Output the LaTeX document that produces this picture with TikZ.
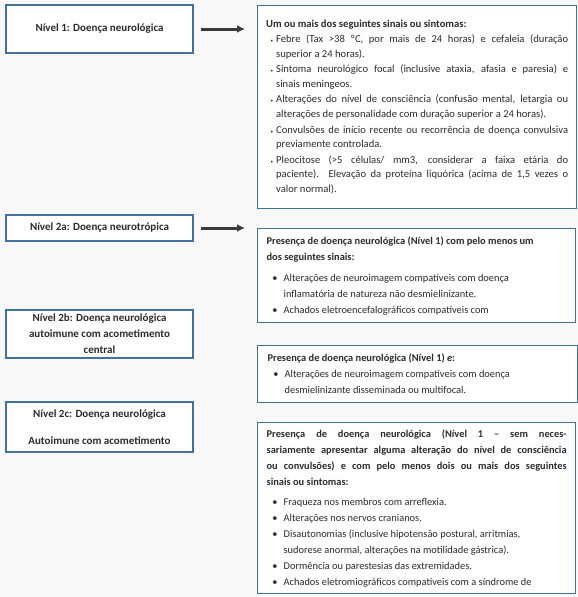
\documentclass[tikz,border=0pt]{standalone}
\usepackage{fontspec}
\setmainfont{Carlito}
\usepackage{xcolor}
\usepackage{enumitem}
\usepackage{tikz}
\usetikzlibrary{arrows, arrows.meta, positioning, calc}
\definecolor{FundoCinza}{HTML}{F8F8F9}
\definecolor{BordaAzul}{HTML}{44709C}
\definecolor{SetaCinza}{HTML}{3A3A3A}
\definecolor{TextoEscuro}{HTML}{2B2B2B}
\newlist{sinaisum}{itemize}{1}
\setlist[sinaisum]{label={\tiny\textbullet}, leftmargin=10pt, labelsep=3pt, nosep, itemsep=1pt}
\newlist{sinaisdois}{itemize}{1}
\setlist[sinaisdois]{label=\textbullet, leftmargin=17pt, labelsep=6pt, nosep}
\tikzset{
  >=latex,  % setas estilo LaTeX
  % caixas da esquerda (niveis)
  nivel/.style={draw=BordaAzul,line width=1.3pt,fill=white,minimum width=187pt,
    align=center,font=\fontsize{11}{16}\selectfont\bfseries,text=TextoEscuro},
  % caixas da direita (criterios)
  criterio/.style={draw=BordaAzul,line width=1.3pt,fill=white,anchor=north west,
    align=justify,text width=300pt,minimum width=318pt,
    font=\fontsize{10.4}{16}\selectfont,text=TextoEscuro},
  % setas
  seta/.style={-{Latex[length=8pt,width=8pt]},line width=3pt,SetaCinza,
    shorten <=7pt,shorten >=12pt}
}
\begin{document}
\begin{tikzpicture}[x=1pt,y=-1pt]
  \fill[FundoCinza] (0,0) rectangle (578,597);
  \useasboundingbox (0,0) rectangle (578,597);
  % niveis
  \node[nivel,minimum height=48pt] (n1) at (99.5,29) {N\'ivel 1: Doen\c{c}a neurol\'ogica};
  \node[nivel,minimum height=26pt] (n2a) at (99.5,228) {N\'ivel 2a: Doen\c{c}a neurotr\'opica};
  \node[nivel,minimum height=48pt] (n2b) at (99.5,334) {N\'ivel 2b: Doen\c{c}a neurol\'ogica\\
    autoimune com acometimento\\ central};
  \node[nivel,minimum height=50pt] (n2c) at (99.5,427) {N\'ivel 2c: Doen\c{c}a neurol\'ogica\\[11pt]
    Autoimune com acometimento};
  % criterios
  \node[criterio,text width=302pt,minimum width=319pt,minimum height=203pt,
    font=\fontsize{10.6}{14.6}\selectfont] (r1) at (257,5) {%
    \textbf{Um ou mais dos seguintes sinais ou sintomas:}
    \begin{sinaisum}
      \item Febre (Tax >38 ºC, por mais de 24 horas) e cefaleia (dura\c{c}\~ao\linebreak
        superior a 24 horas).
      \item Sintoma neurol\'ogico focal (inclusive ataxia, afasia e paresia) e\linebreak
        sinais meningeos.
      \item Altera\c{c}\~oes do n\'ivel de consci\^encia (confus\~ao mental, letargia ou\linebreak
        altera\c{c}\~oes de personalidade com dura\c{c}\~ao superior a 24 horas).
      \item Convuls\~oes de in\'icio recente ou recorr\^encia de doen\c{c}a convulsiva\linebreak
        previamente controlada.
      \item Pleocitose (>5 c\'elulas/ mm3, considerar a faixa et\'aria do\linebreak
        paciente). Eleva\c{c}\~ao da prote\'ina liqu\'orica (acima de 1,5 vezes o\linebreak
        valor normal).
    \end{sinaisum}};
  \node[criterio,minimum height=94pt] (r2a) at (257,228) {%
    \textbf{Presen\c{c}a de doen\c{c}a neurol\'ogica (N\'ivel 1) com pelo menos um\\
    dos seguintes sinais:}
    \begin{sinaisdois}[topsep=5pt]
      \item Altera\c{c}\~oes de neuroimagem compat\'iveis com doen\c{c}a\\
        inflamat\'oria de natureza n\~ao desmielinizante.
      \item Achados eletroencefalogr\'aficos compat\'iveis com
    \end{sinaisdois}};
  \node[criterio,minimum width=320pt,minimum height=57pt] (r2b) at (257,345) {%
    \textbf{Presen\c{c}a de doen\c{c}a neurol\'ogica (N\'ivel 1) \textit{e}:}
    \begin{sinaisdois}
      \item Altera\c{c}\~oes de neuroimagem compat\'iveis com doen\c{c}a\\
        desmielinizante disseminada ou multifocal.
    \end{sinaisdois}};
  \node[criterio,minimum height=171pt] (r2c) at (257,422) {%
    \textbf{Presen\c{c}a de doen\c{c}a neurol\'ogica (N\'ivel 1 -- sem neces-\linebreak
    sariamente apresentar alguma altera\c{c}\~ao do n\'ivel de consci\^encia\linebreak
    ou convuls\~oes) e com pelo menos dois ou mais dos seguintes\linebreak
    sinais ou sintomas:}
    \begin{sinaisdois}[topsep=4pt]
      \item Fraqueza nos membros com arreflexia.
      \item Altera\c{c}\~oes nos nervos cranianos.
      \item Disautonomias (inclusive hipotens\~ao postural, arritmias,\\
        sudorese anormal, altera\c{c}\~oes na motilidade g\'astrica).
      \item Dorm\^encia ou parestesias das extremidades.
      \item Achados eletromiogr\'aficos compat\'iveis com a s\'indrome de
    \end{sinaisdois}};
  % setas
  \draw[seta] (n1.east) -- (n1.east -| r1.west);
  \draw[seta] (n2a.east) -- (n2a.east -| r2a.west);
\end{tikzpicture}
\end{document}
